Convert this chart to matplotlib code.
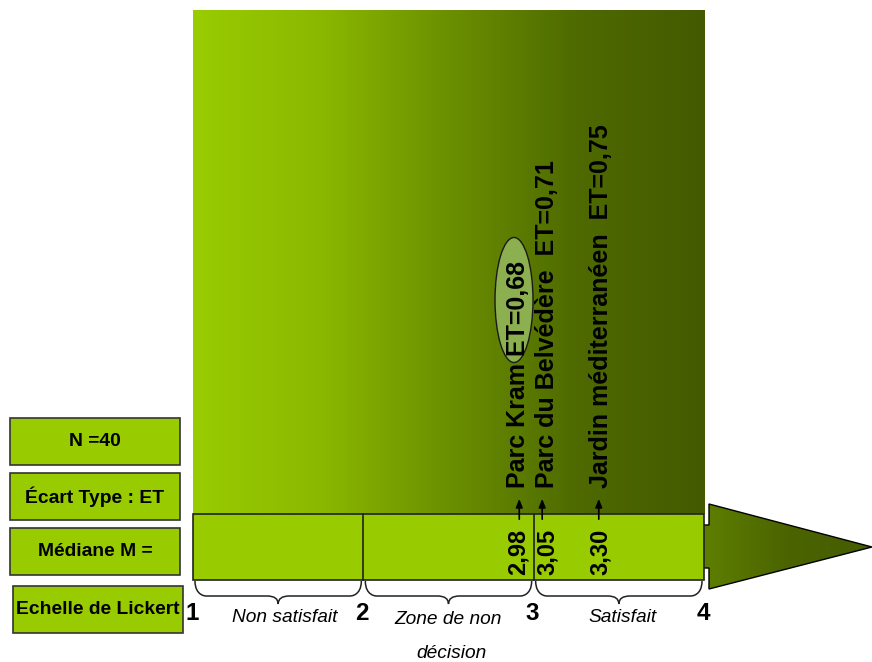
import numpy as np
import matplotlib
matplotlib.use("Agg")
import matplotlib.pyplot as plt
from matplotlib.patches import Rectangle, Polygon, Ellipse, PathPatch
from matplotlib.path import Path
from matplotlib.colors import LinearSegmentedColormap

# ---------------- data ----------------
likert_ticks = [1, 2, 3, 4]
zone_labels = ["Non satisfait", "Zone de non\n\ndécision", "Satisfait"]
parks = ["Parc Kram", "Parc du Belvédère", "Jardin méditerranéen"]
medians = [2.98, 3.05, 3.30]
std_devs = [0.68, 0.71, 0.75]
median_labels = ["2,98", "3,05", "3,30"]
et_labels = ["ET=0,68", "ET=0,71", "ET=0,75"]
legend_boxes = ["N =40", "Écart Type : ET", "Médiane M =", "Echelle de Lickert"]

# ---------------- layout ----------------
W, H = 872, 662
PX1, PX4 = 193.0, 704.0            # pixel x of scale values 1 and 4
UNIT = (PX4 - PX1) / 3.0
X0 = 1 - PX1 / UNIT
X1 = X0 + W / UNIT

def px(x):
    """pixel x -> scale units (layout helper)"""
    return x / UNIT + X0

fig = plt.figure(figsize=(W / 100, H / 100), dpi=100)
ax = fig.add_axes([0, 0, 1, 1])
ax.set_xlim(X0, X1)
ax.set_ylim(H, 0)
ax.axis("off")

FONT = "Liberation Sans"
green = "#99CC00"

# big gradient background
cmap_bg = LinearSegmentedColormap.from_list("bg", ["#99CC00", "#8AB800", "#6B8F00", "#4E6A00", "#455A00"])
grad = np.linspace(0, 1, 512).reshape(1, -1)
ax.imshow(grad, cmap=cmap_bg, extent=[1, 4, 514, 10], aspect="auto", zorder=1, interpolation="bicubic")

# right arrow with gradient
arrow_pts = [(px(703), 525), (px(709), 525), (px(709), 504), (px(872), 547),
             (px(709), 589), (px(709), 568), (px(703), 568)]
arrow = Polygon(arrow_pts, closed=True, facecolor="none", edgecolor="black", lw=1.0, zorder=4)
ax.add_patch(arrow)
cmap_ar = LinearSegmentedColormap.from_list("ar", ["#5E7F00", "#4B6400", "#465C00"])
im = ax.imshow(grad, cmap=cmap_ar, extent=[px(703), px(872), 590, 503], aspect="auto", zorder=3)
clip = Polygon(arrow_pts, closed=True, transform=ax.transData)
im.set_clip_path(clip)

# bottom scale bar
ax.add_patch(Rectangle((1, 514), 3, 66, facecolor=green, edgecolor="#222222", lw=1.2, zorder=5))
for t in likert_ticks[1:-1]:
    ax.plot([t, t], [514, 580], color="#222222", lw=1.2, zorder=6)

# braces below the bar
def brace(xa, xb, y_top=581, y_mid=596, y_tip=604, r=11):
    rr = r / UNIT
    xc = (xa + xb) / 2
    verts = [(xa, y_top), (xa, y_mid), (xa + rr, y_mid), (xa + rr, y_mid),
             (xc - rr, y_mid), (xc, y_mid), (xc, y_tip),
             (xc, y_mid), (xc + rr, y_mid),
             (xb - rr, y_mid), (xb - rr, y_mid), (xb, y_mid), (xb, y_top)]
    codes = [Path.MOVETO, Path.CURVE4, Path.CURVE4, Path.CURVE4,
             Path.LINETO, Path.CURVE3, Path.CURVE3,
             Path.CURVE3, Path.CURVE3,
             Path.LINETO, Path.CURVE4, Path.CURVE4, Path.CURVE4]
    ax.add_patch(PathPatch(Path(verts, codes), facecolor="none", edgecolor="#222222", lw=1.1, zorder=6))

gap = 2 / UNIT
for a, b in zip(likert_ticks[:-1], likert_ticks[1:]):
    brace(a + gap, b - gap)

# scale numbers
for t in likert_ticks:
    ax.text(t - 1 / UNIT, 613, str(t), ha="center", va="center", fontsize=17.5,
            fontweight="bold", family=FONT, zorder=7)

# zone labels
zone_y = [618, 620, 618]
zone_dx = [0.04, 0.0, 0.02]
for i, (lab, y) in enumerate(zip(zone_labels, zone_y)):
    xc = (likert_ticks[i] + likert_ticks[i + 1]) / 2 + zone_dx[i]
    if "\n" in lab:
        l1, l2 = lab.split("\n\n")
        ax.text(xc, y, l1, ha="center", va="center", fontsize=13.8, style="italic", family=FONT)
        ax.text(xc + 0.02, 653, l2, ha="center", va="center", fontsize=13.8, style="italic", family=FONT)
    else:
        ax.text(xc, y, lab, ha="center", va="center", fontsize=13.8, style="italic", family=FONT)

# ellipse highlight
ax.add_patch(Ellipse((px(514), 300), 38 / UNIT, 125, facecolor="#8CAF50", edgecolor="#1a1a1a",
                     lw=1.0, zorder=7))

# medians: arrows, values, park labels
label_shift = [-12, 5, 16]   # px shift of labels to avoid overlap
arrow_shift = [-11, 0, 14]
for i in range(len(parks)):
    xm = medians[i]
    xa = xm + arrow_shift[i] / UNIT
    ax.annotate("", xy=(xa, 496), xytext=(xa, 522),
                arrowprops=dict(arrowstyle="-|>,head_length=0.5,head_width=0.2", color="black", lw=1.2),
                zorder=8)
    xl = xm + label_shift[i] / UNIT
    ax.text(xl, 575, median_labels[i], rotation=90, ha="center", va="bottom", fontsize=17,
            fontweight="bold", family=FONT, zorder=8)
    sep = " " if i == 0 else "  "
    ax.text(xl, 488, parks[i] + sep + et_labels[i], rotation=90, ha="center", va="bottom",
            fontsize=18, fontweight="bold", family=FONT, zorder=8)

# left legend boxes
boxes = [(10, 418, 170, 47), (10, 473, 170, 47), (10, 528, 170, 47), (13, 586, 170, 47)]
for (bx, by, bw, bh), lab in zip(boxes, legend_boxes):
    ax.add_patch(Rectangle((px(bx), by), bw / UNIT, bh, facecolor=green, edgecolor="#333333",
                           lw=1.2, zorder=5))
    ax.text(px(bx + bw / 2), by + bh / 2, lab, ha="center", va="center", fontsize=13.9,
            fontweight="bold", family=FONT, zorder=6)

fig.savefig("out.png", dpi=100)
